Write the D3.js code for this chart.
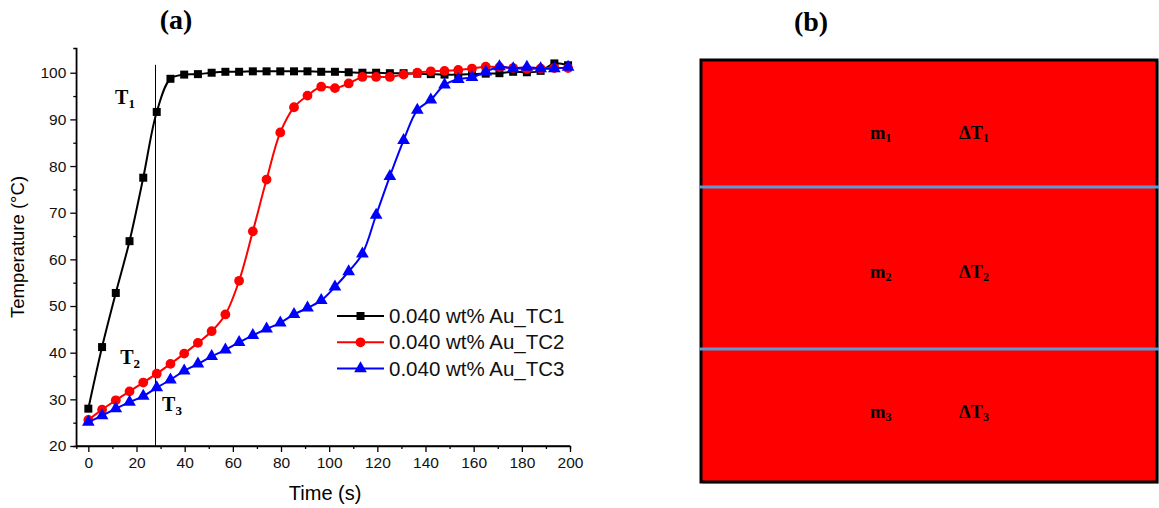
<!DOCTYPE html>
<html><head><meta charset="utf-8">
<script src="https://cdn.jsdelivr.net/npm/d3@7"></script>
<style>body{margin:0;background:#fff}svg{display:block}</style>
</head><body>
<svg id="c" width="1159" height="508"></svg>
<script>
const times = [0, 5.7, 11.4, 17.1, 22.8, 28.4, 34.1, 39.8, 45.5, 51.2, 56.9, 62.6, 68.3, 74.0, 79.7, 85.4, 91.0, 96.7, 102.4, 108.1, 113.8, 119.5, 125.2, 130.9, 136.6, 142.2, 147.9, 153.6, 159.3, 165.0, 170.7, 176.4, 182.1, 187.8, 193.5, 199.2];
const tc1 = [28.0, 41.2, 52.8, 63.9, 77.5, 91.6, 98.7, 99.6, 99.7, 100.0, 100.2, 100.2, 100.3, 100.3, 100.3, 100.3, 100.3, 100.2, 100.2, 100.1, 100.0, 100.0, 99.9, 99.9, 99.8, 99.7, 99.6, 99.6, 99.7, 99.8, 99.9, 100.2, 100.1, 100.4, 102.0, 101.6];
const tc2 = [25.6, 27.8, 29.8, 31.7, 33.6, 35.5, 37.6, 39.8, 42.1, 44.6, 48.2, 55.4, 66.0, 77.1, 87.2, 92.6, 95.1, 97.0, 96.7, 97.7, 99.1, 99.1, 99.1, 99.6, 100.0, 100.3, 100.4, 100.6, 100.9, 101.3, 101.2, 101.0, 100.8, 100.9, 101.0, 101.0];
const tc3 = [25.1, 26.5, 28.0, 29.4, 30.7, 32.5, 34.2, 36.1, 37.6, 39.2, 40.6, 42.2, 43.7, 45.1, 46.4, 48.2, 49.6, 51.2, 54.1, 57.4, 61.2, 69.5, 77.8, 85.5, 92.0, 94.2, 97.4, 98.6, 99.0, 100.2, 101.3, 100.9, 101.2, 100.9, 100.9, 101.2];
const seriesNames = ["0.040 wt% Au_TC1", "0.040 wt% Au_TC2", "0.040 wt% Au_TC3"];
const xTicks = [0, 20, 40, 60, 80, 100, 120, 140, 160, 180, 200];
const yTicks = [20, 30, 40, 50, 60, 70, 80, 90, 100];
const markerTime = 27.7;
const markerLabels = [{t:"T", s:"1", x:11.1, y:93.3}, {t:"T", s:"2", x:13.2, y:37.5}, {t:"T", s:"3", x:30.6, y:27.6}];
const layers = [{m:"m", s:"1", d:"ΔT", ds:"1"}, {m:"m", s:"2", d:"ΔT", ds:"2"}, {m:"m", s:"3", d:"ΔT", ds:"3"}];

const svg = d3.select("#c");
const x = d3.scaleLinear().domain([-5, 200]).range([76.3, 570]);
const y = d3.scaleLinear().domain([20, 105.3]).range([446, 48]);

const g = svg.append("g");
// axes
const xAxis = d3.axisBottom(x).tickValues(xTicks).tickSize(6).tickPadding(5).tickFormat(d3.format("d"));
const gx = g.append("g").attr("transform","translate(0,446)").call(xAxis);
gx.append("g").call(d3.axisBottom(x).tickValues(d3.range(10,200,20)).tickSize(3).tickFormat(""));
const yAxis = d3.axisLeft(y).tickValues(yTicks).tickSize(6).tickPadding(4);
const gy = g.append("g").attr("transform","translate(76.3,0)").call(yAxis);
gy.append("g").call(d3.axisLeft(y).tickValues(d3.range(25,105,10)).tickSize(3).tickFormat(""));
[gx, gy].forEach(a => {
  a.selectAll("path.domain").attr("stroke","#000").attr("stroke-width",1.3);
  a.selectAll("line").attr("stroke","#000").attr("stroke-width",1.3);
  a.selectAll("text").attr("font-family","Liberation Sans, Arial, sans-serif").attr("font-size",15.5).attr("fill","#111");
});
gx.select("path.domain").attr("d", `M${x(-5)},0H${x(200)}`);
gy.select("path.domain").attr("d", `M0,${y(105.3)}V${y(20)}`);

g.append("text").attr("x", (x(-5)+x(200))/2 + 2).attr("y", 500)
  .attr("text-anchor","middle").attr("font-family","Liberation Sans, Arial, sans-serif").attr("font-size",20).text("Time (s)");
g.append("text").attr("transform", `translate(24,${(y(20)+y(105.3))/2}) rotate(-90)`)
  .attr("text-anchor","middle").attr("font-family","Liberation Sans, Arial, sans-serif").attr("font-size",18.5).text("Temperature (°C)");

// vertical marker
g.append("line").attr("x1", Math.round(x(markerTime))+0.5).attr("x2", Math.round(x(markerTime))+0.5).attr("y1", y(101.7)).attr("y2", y(20))
  .attr("stroke","#000").attr("stroke-width",1);

const series = [
  {vals: tc1, color:"#000000", sym: d3.symbolSquare, size: 64},
  {vals: tc2, color:"#ff0000", sym: d3.symbolCircle, size: 75},
  {vals: tc3, color:"#0000ff", sym: d3.symbolTriangle, size: 70}
];
const line = d3.line().x(d=>x(d[0])).y(d=>y(d[1])).curve(d3.curveCatmullRom.alpha(0.5));
series.forEach(s => {
  const pts = times.map((t,i)=>[t, s.vals[i]]);
  g.append("path").attr("d", line(pts)).attr("fill","none").attr("stroke", s.color).attr("stroke-width", 2);
  g.append("g").selectAll("path").data(pts).join("path")
    .attr("transform", d=>`translate(${x(d[0])},${y(d[1])})`)
    .attr("d", d3.symbol().type(s.sym).size(s.size)).attr("fill", s.color);
});

// marker labels
markerLabels.forEach(m => {
  const t = g.append("text").attr("x", x(m.x)).attr("y", y(m.y)).attr("font-family","Liberation Serif, Times New Roman, serif")
    .attr("font-weight","bold").attr("font-size",20);
  t.append("tspan").text(m.t);
  t.append("tspan").attr("font-size",13).attr("dy",4).text(m.s);
});

// legend
const lg = g.append("g").attr("transform","translate(337,316)");
series.forEach((s,i) => {
  const row = lg.append("g").attr("transform",`translate(0,${i*26.3})`);
  row.append("line").attr("x1",0).attr("x2",47).attr("stroke",s.color).attr("stroke-width",2);
  row.append("path").attr("transform","translate(23.5,0)").attr("d", d3.symbol().type(s.sym).size(s.size)).attr("fill",s.color);
  row.append("text").attr("x",52).attr("y",7).attr("font-family","Liberation Sans, Arial, sans-serif").attr("font-size",20.5).attr("fill","#111").text(seriesNames[i]);
});

// panel titles
svg.append("text").attr("x",176).attr("y",29).attr("text-anchor","middle").attr("font-family","Liberation Serif, Times New Roman, serif").attr("font-weight","bold").attr("font-size",28).text("(a)");
svg.append("text").attr("x",811).attr("y",31).attr("text-anchor","middle").attr("font-family","Liberation Serif, Times New Roman, serif").attr("font-weight","bold").attr("font-size",28).text("(b)");

// panel b
const bx0 = 701, bx1 = 1157, by0 = 60, by1 = 482;
svg.append("rect").attr("x",bx0+1).attr("y",by0+1).attr("width",bx1-bx0+1).attr("height",by1-by0+1).attr("fill","#c9d1de");
svg.append("rect").attr("x",bx0).attr("y",by0).attr("width",bx1-bx0).attr("height",by1-by0).attr("fill","#ff0000").attr("stroke","#000").attr("stroke-width",3);
const divs = [187, 349];
divs.forEach(v => svg.append("line").attr("x1",bx0-2).attr("x2",1159).attr("y1",v).attr("y2",v).attr("stroke","#5b9bd5").attr("stroke-width",3));
const labY = [139, 278, 418];
layers.forEach((L,i) => {
  const t1 = svg.append("text").attr("x",870).attr("y",labY[i]).attr("font-family","Liberation Serif, Times New Roman, serif").attr("font-weight","bold").attr("font-size",18.5);
  t1.append("tspan").text(L.m);
  t1.append("tspan").attr("font-size",12).attr("dy",3).text(L.s);
  const t2 = svg.append("text").attr("x",959).attr("y",labY[i]).attr("font-family","Liberation Serif, Times New Roman, serif").attr("font-weight","bold").attr("font-size",18.5);
  t2.append("tspan").text(L.d);
  t2.append("tspan").attr("font-size",12).attr("dy",3).text(L.ds);
});
</script>
</body></html>
